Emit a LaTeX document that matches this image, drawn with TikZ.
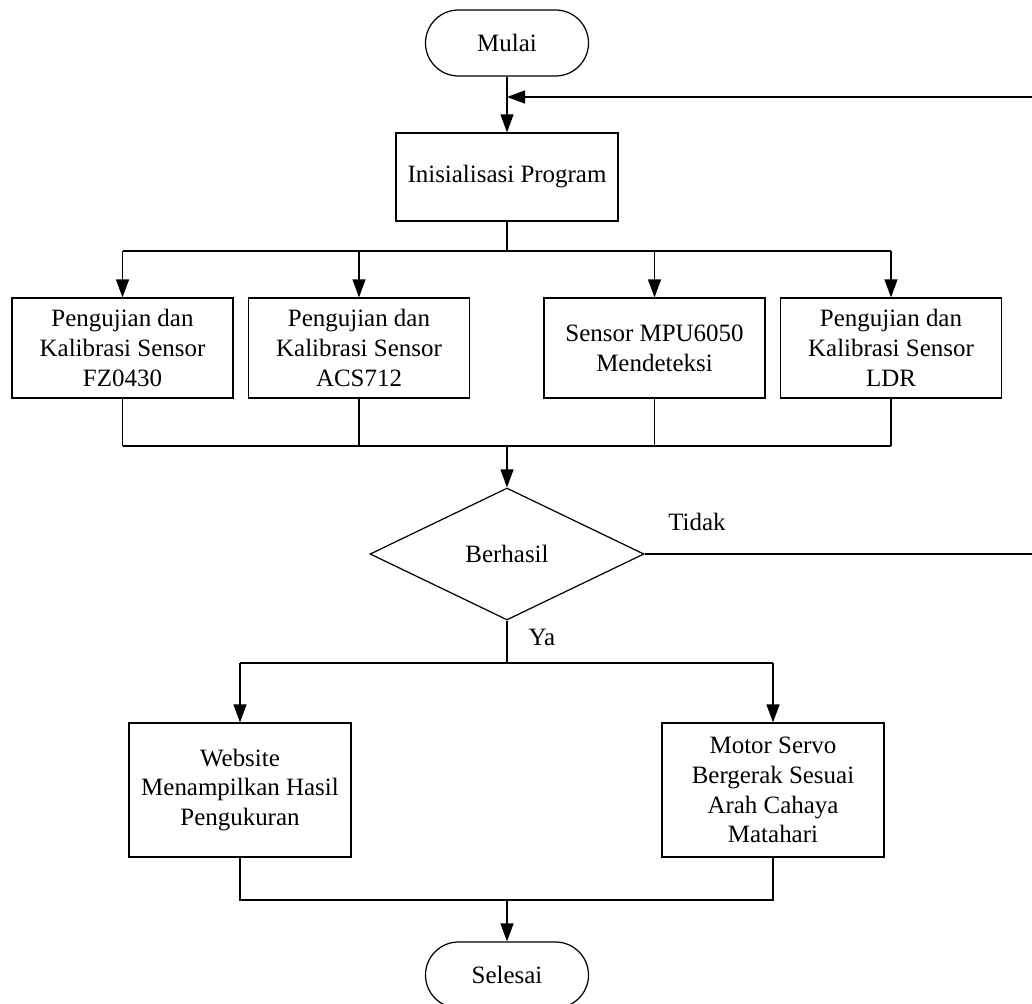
\documentclass[tikz,border=0pt]{standalone}
\usepackage{fontspec}
\setmainfont{Liberation Serif}
\usepackage{tikz}
\usetikzlibrary{arrows.meta}
\usetikzlibrary{shapes.geometric}
\tikzset{
  prosesbox/.style = {draw, rectangle, align=center, inner sep=2pt},
  terminal/.style  = {draw, rectangle, rounded corners=0.66cm, minimum width=3.26cm, minimum height=1.32cm},
  keputusan/.style = {draw, diamond, aspect=2.07, minimum width=5.48cm, minimum height=2.64cm, inner sep=0},
}

\begin{document}
\begin{tikzpicture} [line width=0.7pt, >={Triangle[length=3.6mm,width=2.6mm]}, font=\fontsize{14.2}{17}\selectfont]
\useasboundingbox (0,0) rectangle (20.64,-20.06);
\node[terminal] (mulai) at (10.14,-0.86) {Mulai};
\node[prosesbox, minimum width=4.44cm, minimum height=1.76cm] (init) at (10.14,-3.54) {Inisialisasi Program};
\foreach \n/\x/\txt in {s1/2.45/{Pengujian dan\\Kalibrasi Sensor\\FZ0430},
                        s2/7.18/{Pengujian dan\\Kalibrasi Sensor\\ACS712},
                        s3/13.09/{Sensor MPU6050\\Mendeteksi},
                        s4/17.82/{Pengujian dan\\Kalibrasi Sensor\\LDR}} {
  \node[prosesbox, minimum width=4.42cm, minimum height=2.0cm] (\n) at (\x,-6.96) {\txt};
}
\node[keputusan] (cek) at (10.14,-11.08) {Berhasil};
\node[prosesbox, minimum width=4.44cm, minimum height=2.68cm] (web) at (4.8,-15.8) {Website\\Menampilkan Hasil\\Pengukuran};
\node[prosesbox, minimum width=4.44cm, minimum height=2.68cm] (servo) at (15.46,-15.8) {Motor Servo\\Bergerak Sesuai\\Arah Cahaya\\Matahari};
\node[terminal] (selesai) at (10.14,-19.5) {Selesai};

\coordinate (balik) at (10.14,-1.94);
\coordinate (cabang1) at (10.14,-5.02);
\coordinate (gabung1) at (10.14,-8.92);
\coordinate (cabang2) at (10.14,-13.26);
\coordinate (gabung2) at (10.14,-18.0);

% alur utama
\draw[->] (mulai.south) -- (init.north);
\draw (init.south) -- (cabang1);
\draw (s1.north |- cabang1) -- (s4.north |- cabang1);
\foreach \n in {s1,s2,s3,s4} {
  \draw[->] (\n.north |- cabang1) -- (\n.north);
  \draw (\n.south) -- (\n.south |- gabung1);
}
\draw (s1.south |- gabung1) -- (s4.south |- gabung1);
\draw[->] (gabung1) -- (cek.north);

% keputusan
\draw (cek.south) -- (cabang2);
\node (ya) at (10.84,-12.74) {Ya};
\draw (web.north |- cabang2) -- (servo.north |- cabang2);
\draw[->] (web.north |- cabang2) -- (web.north);
\draw[->] (servo.north |- cabang2) -- (servo.north);
\draw[->] (cek.east) -- (20.8,-11.08) |- (balik);
\node (tidak) at (13.94,-10.44) {Tidak};

\draw (web.south) -- (web.south |- gabung2) -- (servo.south |- gabung2) -- (servo.south);
\draw[->] (gabung2) -- (selesai.north);
\end{tikzpicture}
\end{document}
